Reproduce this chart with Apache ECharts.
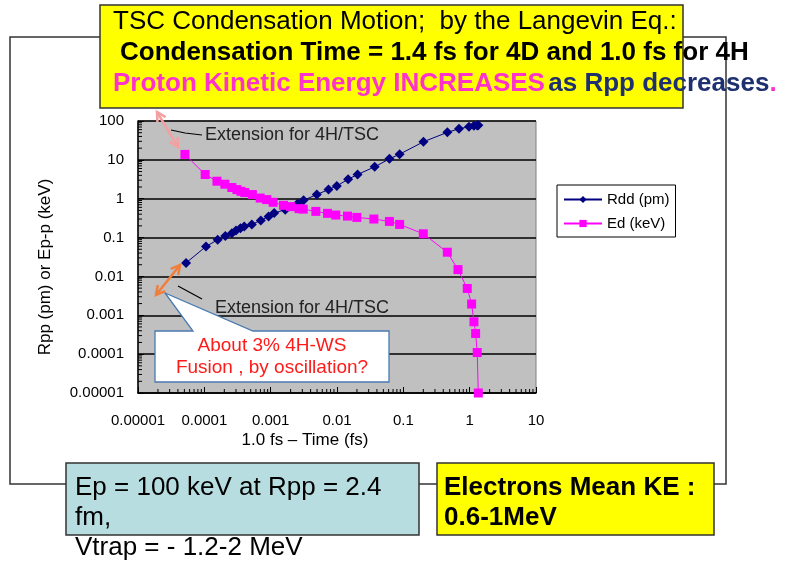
<!DOCTYPE html>
<html>
<head>
<meta charset="utf-8">
<script src="https://cdn.jsdelivr.net/npm/echarts@6/dist/echarts.min.js"></script>
<style>
html,body{margin:0;padding:0;background:#fff;}
#chart{width:792px;height:562px;}
</style>
</head>
<body>
<div id="chart"></div>
<script>
// tick labels
var xTickLabels = ['0.00001', '0.0001', '0.001', '0.01', '0.1', '1', '10'];
var yTickLabels = ['0.00001', '0.0001', '0.001', '0.01', '0.1', '1', '10', '100'];

// Rdd (pm) vs 1.0 fs - time
var rddTime = [5.3e-5, 1.06e-4, 1.59e-4, 2.07e-4, 2.6e-4, 3.0e-4, 3.5e-4, 4.0e-4, 5.2e-4, 7.1e-4, 9.3e-4, 1.13e-3, 1.66e-3, 2.54e-3, 3.13e-3, 4.96e-3, 7.45e-3, 9.93e-3, 0.0147, 0.0204, 0.037, 0.0617, 0.088, 0.201, 0.461, 0.69, 0.977, 1.16, 1.3, 1.35];
var rddValue = [0.0223, 0.059, 0.088, 0.109, 0.13, 0.152, 0.175, 0.194, 0.218, 0.277, 0.351, 0.428, 0.523, 0.746, 0.91, 1.28, 1.72, 2.13, 3.17, 4.2, 6.6, 10.6, 14.0, 29.2, 51, 63, 71, 76, 77, 78];

// Ed (keV) vs 1.0 fs - time
var edTime = [5.1e-5, 1.03e-4, 1.55e-4, 2.04e-4, 2.6e-4, 3.1e-4, 3.56e-4, 4.08e-4, 5.3e-4, 6.95e-4, 8.7e-4, 1.09e-3, 1.56e-3, 2.0e-3, 2.68e-3, 3.1e-3, 4.8e-3, 7.2e-3, 9.6e-3, 0.0144, 0.0199, 0.036, 0.0617, 0.088, 0.2, 0.46, 0.667, 0.92, 1.07, 1.16, 1.23, 1.3, 1.35];
var edValue = [13.8, 4.2, 2.82, 2.36, 1.94, 1.72, 1.55, 1.44, 1.28, 1.04, 0.95, 0.81, 0.675, 0.625, 0.555, 0.54, 0.472, 0.42, 0.38, 0.357, 0.33, 0.30, 0.26, 0.218, 0.125, 0.042, 0.015, 0.0049, 0.00195, 0.00068, 0.00034, 0.00011, 0.00001];

var X_MIN = 1e-5, X_MAX = 10, Y_MIN = 1e-5, Y_MAX = 100;

function pairs(xs, ys) {
  return xs.map(function (x, i) { return [x, ys[i]]; });
}

// minor log ticks (2..9 in each decade)
var minorX = [], minorY = [];
for (var d = -5; d < 1; d++) for (var k = 2; k < 10; k++) minorX.push(k * Math.pow(10, d));
for (var d2 = -5; d2 < 2; d2++) for (var k2 = 2; k2 < 10; k2++) minorY.push(k2 * Math.pow(10, d2));
var minorData = minorX.map(function (v) { return [v, Y_MIN, 0]; })
  .concat(minorY.map(function (v) { return [X_MIN, v, 1]; }));

var slideFont = 'Liberation Sans';

function arrow(x1, y1, x2, y2, color) {
  var els = [{ type: 'line', z: 120, shape: { x1: x1, y1: y1, x2: x2, y2: y2 }, style: { stroke: color, lineWidth: 2.5 } }];
  [[x1, y1, x2, y2], [x2, y2, x1, y1]].forEach(function (p) {
    var a = Math.atan2(p[1] - p[3], p[0] - p[2]);
    var L = 10, w = 0.5;
    els.push({ type: 'polyline', z: 120, shape: { points: [
      [p[0] - L * Math.cos(a - w), p[1] - L * Math.sin(a - w)],
      [p[0], p[1]],
      [p[0] - L * Math.cos(a + w), p[1] - L * Math.sin(a + w)]
    ] }, style: { stroke: color, lineWidth: 2.5, fill: null } });
  });
  return els;
}

var graphics = [
  // outer frame
  { type: 'rect', z: 1, shape: { x: 10, y: 37, width: 716, height: 447 }, style: { fill: null, stroke: '#333', lineWidth: 1.5 } },
  // top yellow box
  { type: 'rect', z: 50, shape: { x: 100, y: 5, width: 583, height: 103 }, style: { fill: '#ffff00', stroke: '#333', lineWidth: 1.5 } },
  { type: 'text', z: 51, x: 113, y: 35, style: { text: 'TSC Condensation Motion;  by the Langevin Eq.:', fill: '#000', font: '26px ' + slideFont, textVerticalAlign: 'bottom' } },
  { type: 'text', z: 51, x: 120, y: 66, style: { text: 'Condensation Time = 1.4 fs for 4D and 1.0 fs for 4H', fill: '#000', font: 'bold 26px ' + slideFont, textVerticalAlign: 'bottom' } },
  { type: 'text', z: 51, x: 113, y: 97, style: { rich: { m: { fill: '#ff33cc', font: 'bold 26px ' + slideFont }, n: { fill: '#1f3070', font: 'bold 26px ' + slideFont } }, text: '{m|Proton Kinetic Energy INCREASES} {n|as Rpp decreases}{m|.}', textVerticalAlign: 'bottom' } },
  // bottom boxes
  { type: 'rect', z: 50, shape: { x: 66, y: 463, width: 353, height: 72 }, style: { fill: '#b7dde1', stroke: '#333', lineWidth: 1.5 } },
  { type: 'text', z: 51, x: 75, y: 501, style: { text: 'Ep = 100 keV at Rpp = 2.4', fill: '#000', font: '26px ' + slideFont, textVerticalAlign: 'bottom' } },
  { type: 'text', z: 51, x: 75, y: 531, style: { text: 'fm,', fill: '#000', font: '26px ' + slideFont, textVerticalAlign: 'bottom' } },
  { type: 'text', z: 51, x: 75, y: 561, style: { text: 'Vtrap = - 1.2-2 MeV', fill: '#000', font: '26px ' + slideFont, textVerticalAlign: 'bottom' } },
  { type: 'rect', z: 50, shape: { x: 437, y: 463, width: 277, height: 72 }, style: { fill: '#ffff00', stroke: '#333', lineWidth: 1.5 } },
  { type: 'text', z: 51, x: 444, y: 501, style: { text: 'Electrons Mean KE :', fill: '#000', font: 'bold 26px ' + slideFont, textVerticalAlign: 'bottom' } },
  { type: 'text', z: 51, x: 444, y: 531, style: { text: '0.6-1MeV', fill: '#000', font: 'bold 26px ' + slideFont, textVerticalAlign: 'bottom' } },
  // extension notes
  { type: 'polyline', z: 110, shape: { points: [[171, 130], [185, 133], [202, 135]] }, style: { stroke: '#000', lineWidth: 1.2, fill: null } },
  { type: 'text', z: 110, x: 205, y: 135, style: { text: 'Extension for 4H/TSC', fill: '#222', font: '18px Liberation Sans', textVerticalAlign: 'middle' } },
  { type: 'line', z: 110, shape: { x1: 178, y1: 286, x2: 202, y2: 299 }, style: { stroke: '#000', lineWidth: 1.2 } },
  { type: 'text', z: 110, x: 215, y: 308, style: { text: 'Extension for 4H/TSC', fill: '#222', font: '18px Liberation Sans', textVerticalAlign: 'middle' } },
  // callout
  { type: 'polygon', z: 115, shape: { points: [[155, 331], [193, 331], [165, 293], [253, 331], [389, 331], [389, 382], [155, 382]] }, style: { fill: '#fff', stroke: '#4a7ab0', lineWidth: 1.3 } },
  { type: 'text', z: 116, x: 272, y: 346, style: { text: 'About 3% 4H-WS', fill: '#ff1a1a', font: '19px Liberation Sans', textAlign: 'center', textVerticalAlign: 'middle' } },
  { type: 'text', z: 116, x: 272, y: 368, style: { text: 'Fusion , by oscillation?', fill: '#ff1a1a', font: '19px Liberation Sans', textAlign: 'center', textVerticalAlign: 'middle' } }
].concat(arrow(157, 112, 178, 147, '#f4a0a0')).concat(arrow(156, 295, 180, 265, '#f07e3c'));

var myChart = echarts.init(document.getElementById('chart'));
myChart.setOption({
  animation: false,
  backgroundColor: '#fff',
  textStyle: { fontFamily: 'Liberation Sans' },
  grid: {
    left: 138, top: 121, width: 398, height: 272,
    show: true, backgroundColor: '#c0c0c0', borderColor: '#808080', borderWidth: 1
  },
  legend: {
    left: 557, top: 185, orient: 'vertical',
    backgroundColor: '#fff', borderColor: '#000', borderWidth: 1,
    padding: [7, 6, 6, 6], itemGap: 9, itemWidth: 38, itemHeight: 9,
    textStyle: { fontSize: 15, color: '#000' },
    data: ['Rdd (pm)', 'Ed (keV)']
  },
  xAxis: {
    type: 'log', logBase: 10, min: X_MIN, max: X_MAX,
    name: '1.0 fs \u2013 Time (fs)', nameLocation: 'middle', nameGap: 39,
    nameTextStyle: { fontSize: 17, color: '#000', padding: [0, 64, 0, 0] },
    axisLine: { lineStyle: { color: '#000', width: 1.5 } },
    axisTick: { inside: true, length: 6, lineStyle: { color: '#000' } },
    axisLabel: { fontSize: 15, color: '#000', margin: 20, formatter: function (v, i) { return xTickLabels[i]; } },
    splitLine: { show: false }
  },
  yAxis: {
    type: 'log', logBase: 10, min: Y_MIN, max: Y_MAX,
    name: 'Rpp (pm) or Ep-p (keV)', nameLocation: 'middle', nameGap: 84,
    nameTextStyle: { fontSize: 17, color: '#000', padding: [0, 20, 0, 0] },
    axisLine: { lineStyle: { color: '#000', width: 1.5 } },
    axisTick: { inside: true, length: 6, lineStyle: { color: '#000' } },
    axisLabel: { fontSize: 15, color: '#000', margin: 14, formatter: function (v, i) { return yTickLabels[i]; } },
    splitLine: { show: true, lineStyle: { color: '#000', width: 1.5 } }
  },
  series: [
    {
      name: 'minor', type: 'custom', silent: true, z: 3,
      data: minorData,
      renderItem: function (params, api) {
        var p = api.coord([api.value(0), api.value(1)]);
        var horiz = api.value(2) === 1;
        return {
          type: 'line',
          shape: horiz ? { x1: p[0], y1: p[1], x2: p[0] + 4, y2: p[1] } : { x1: p[0], y1: p[1], x2: p[0], y2: p[1] - 4 },
          style: { stroke: '#000', lineWidth: 1 }
        };
      }
    },
    {
      name: 'Rdd (pm)', type: 'line', data: pairs(rddTime, rddValue),
      symbol: 'diamond', symbolSize: 10,
      lineStyle: { color: '#000080', width: 1 }, itemStyle: { color: '#000080' }
    },
    {
      name: 'Ed (keV)', type: 'line', data: pairs(edTime, edValue),
      symbol: 'rect', symbolSize: 9,
      lineStyle: { color: '#ff00ff', width: 1 }, itemStyle: { color: '#ff00ff' }
    }
  ],
  graphic: graphics
});
</script>
</body>
</html>
